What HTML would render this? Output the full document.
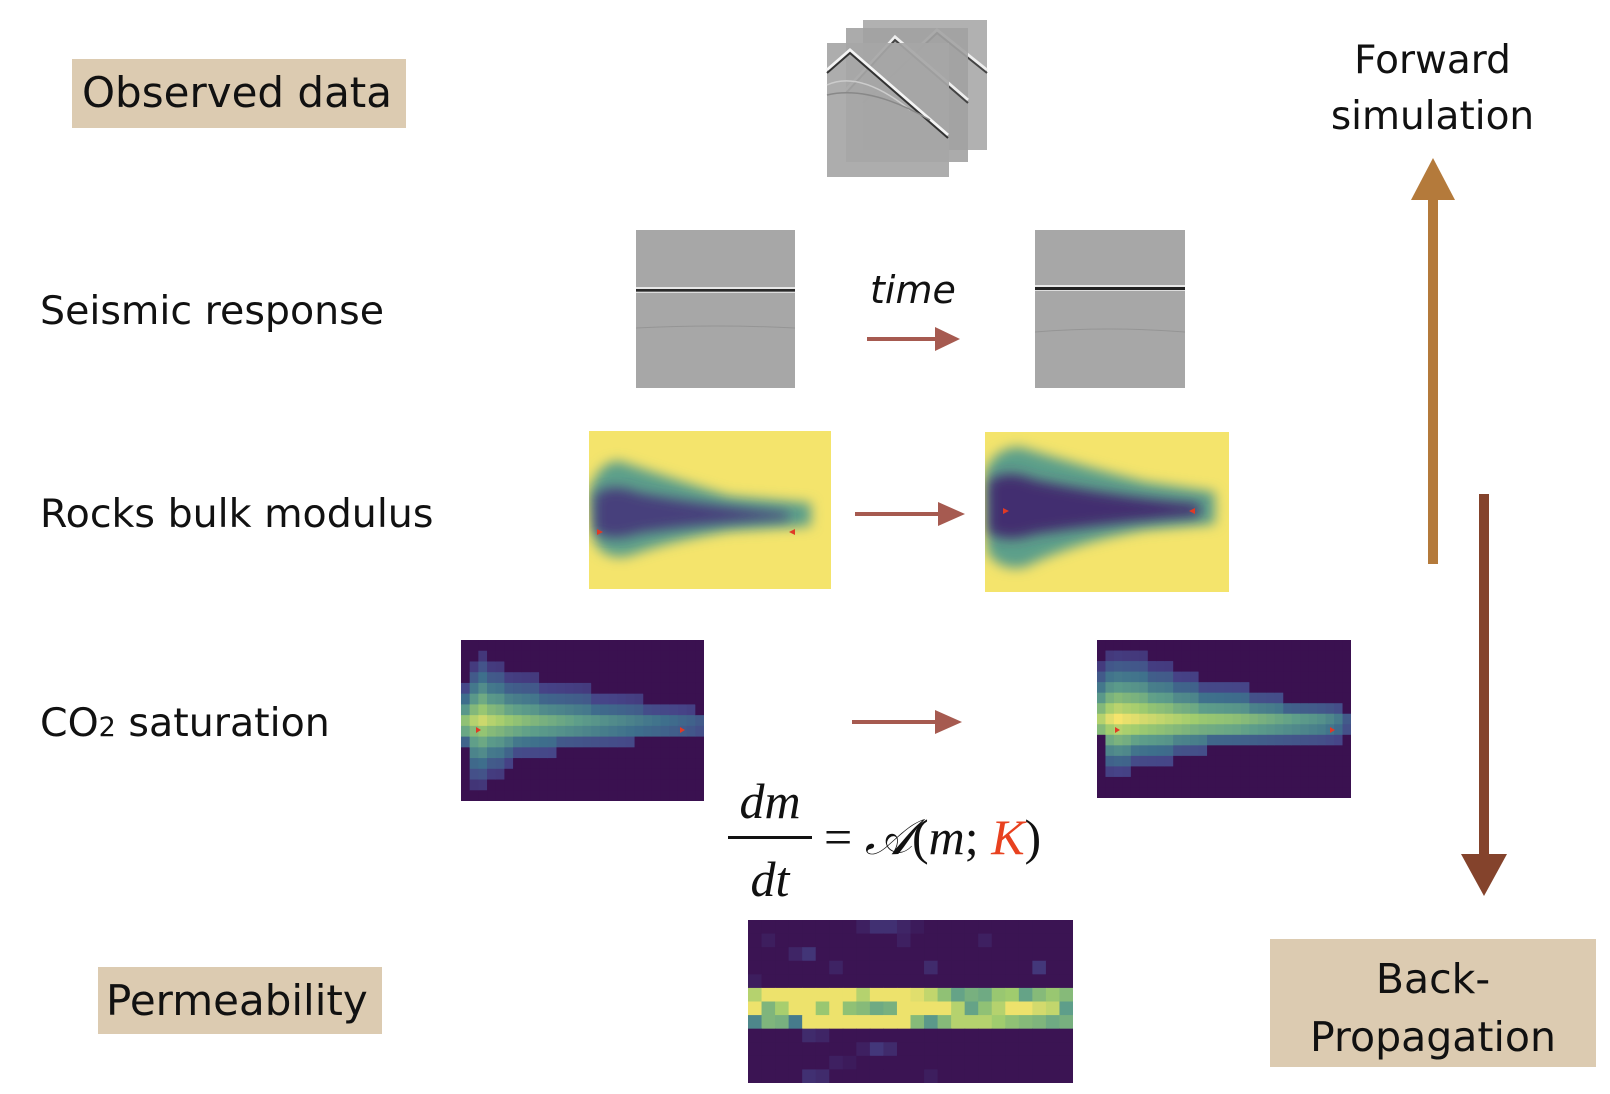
<!DOCTYPE html>
<html><head><meta charset="utf-8">
<style>
body{margin:0;width:1610px;height:1094px;background:#fff;position:relative;overflow:hidden;font-family:"DejaVu Sans","Liberation Sans",sans-serif;color:#111}
.abs{position:absolute}
.lbl{position:absolute;font-size:39.5px;white-space:nowrap}
.box{position:absolute;background:#dccbb1}
</style></head><body>
<div class="box" style="left:72px;top:59px;width:334px;height:69px"></div>
<div class="lbl" style="left:82px;top:68px;font-size:42px">Observed data</div>

<svg class="abs" style="left:820px;top:10px" width="190" height="180">
 <g><rect x="43" y="10" width="124" height="130" fill="#a9a9a9" opacity="0.9"/><path d="M43 90 L117 20 L167 60" stroke="#eee" stroke-width="3" fill="none"/><path d="M43 93 L117 23 L167 63" stroke="#444" stroke-width="2" fill="none"/></g>
 <g><rect x="26" y="18" width="122" height="134" fill="#a2a2a2" opacity="0.9"/><path d="M26 80 L75 27 L148 90" stroke="#eee" stroke-width="3" fill="none"/><path d="M26 83 L75 30 L148 93" stroke="#444" stroke-width="2" fill="none"/></g>
 <g><rect x="7" y="33" width="122" height="134" fill="#a6a6a6" opacity="0.92"/><path d="M7 60 L30 40 L128 125" stroke="#f4f4f4" stroke-width="3" fill="none"/><path d="M7 63 L30 43 L128 128" stroke="#333" stroke-width="2" fill="none"/><path d="M7 75 Q40 60 90 100" stroke="#ccc" stroke-width="1.5" fill="none"/><path d="M7 85 Q50 75 110 110" stroke="#888" stroke-width="1.5" fill="none"/></g>
</svg>

<div class="lbl" style="left:1310px;top:33px;width:245px;text-align:center;line-height:56px;font-size:39px">Forward<br>simulation</div>

<div class="lbl" style="left:40px;top:288px">Seismic response</div>
<svg class="abs" style="left:636px;top:230px" width="159" height="158"><rect width="159" height="158" fill="#a7a7a7"/><rect y="57" width="159" height="2" fill="#e8e8e8"/><rect y="59" width="159" height="2.5" fill="#2a2a2a"/><rect y="62" width="159" height="1" fill="#ddd"/><path d="M0 98 Q80 94 159 98" stroke="#959595" stroke-width="1" fill="none"/></svg>
<div class="lbl" style="left:870px;top:268px;font-style:italic;font-size:38px">time</div>
<svg class="abs" style="left:865px;top:326px" width="100" height="26"><line x1="2" y1="13" x2="75" y2="13" stroke="#a65a50" stroke-width="4"/><polygon points="70,1 95,13 70,25" fill="#a65a50"/></svg>
<svg class="abs" style="left:1035px;top:230px" width="150" height="158"><rect width="150" height="158" fill="#a7a7a7"/><rect y="55" width="150" height="2" fill="#e8e8e8"/><rect y="57" width="150" height="3" fill="#222"/><rect y="60" width="150" height="1" fill="#ddd"/><path d="M0 102 Q75 96 150 102" stroke="#959595" stroke-width="1" fill="none"/></svg>

<div class="lbl" style="left:40px;top:491px">Rocks bulk modulus</div>
<svg class="abs" style="left:589px;top:431px" width="242" height="158">
 <defs><filter id="bl1" x="-20%" y="-20%" width="140%" height="140%"><feGaussianBlur stdDeviation="6"/></filter></defs>
 <rect width="242" height="158" fill="#f4e46c"/>
 <path d="M0 60 Q10 30 30 30 Q90 50 140 65 L222 72 L222 95 L140 100 Q80 110 40 125 Q15 130 5 110 Z" fill="#5c9f8a" filter="url(#bl1)"/>
 <path d="M5 65 Q20 50 50 62 Q120 75 200 82 L200 88 Q120 92 50 102 Q20 112 5 100 Z" fill="#46407c" filter="url(#bl1)"/>
 <polygon points="8,98 14,101 8,104" fill="#e03a25"/><polygon points="206,98 200,101 206,104" fill="#e03a25"/>
</svg>
<svg class="abs" style="left:853px;top:501px" width="115" height="26"><line x1="2" y1="13" x2="90" y2="13" stroke="#a65a50" stroke-width="4"/><polygon points="85,1 112,13 85,25" fill="#a65a50"/></svg>
<svg class="abs" style="left:985px;top:432px" width="244" height="160">
 <defs><filter id="bl2" x="-20%" y="-20%" width="140%" height="140%"><feGaussianBlur stdDeviation="6"/></filter></defs>
 <rect width="244" height="160" fill="#f4e46c"/>
 <path d="M0 40 Q10 15 35 15 Q100 35 160 50 L230 60 L230 92 L160 98 Q90 110 40 135 Q15 140 2 120 Z" fill="#5c9f8a" filter="url(#bl2)"/>
 <path d="M3 50 Q20 35 50 48 Q130 65 215 72 L215 84 Q130 90 50 102 Q20 112 3 100 Z" fill="#432f70" filter="url(#bl2)"/>
 <polygon points="18,76 24,79 18,82" fill="#e03a25"/><polygon points="210,76 204,79 210,82" fill="#e03a25"/>
</svg>

<div class="lbl" style="left:40px;top:700px">CO<span style="font-size:27px">2</span> saturation</div>
<svg class="abs" id="co2a" style="left:461px;top:640px" width="243" height="161"></svg>
<svg class="abs" style="left:850px;top:709px" width="115" height="26"><line x1="2" y1="13" x2="90" y2="13" stroke="#a65a50" stroke-width="4"/><polygon points="85,1 112,13 85,25" fill="#a65a50"/></svg>
<svg class="abs" id="co2b" style="left:1097px;top:640px" width="254" height="158"></svg>

<div class="abs" style="left:728px;top:772px;font-family:'Liberation Serif',serif;font-size:50px;font-style:italic">
 <div class="abs" style="left:0;top:0;width:84px;text-align:center">dm</div>
 <div class="abs" style="left:0;top:64px;width:84px;height:3px;background:#111"></div>
 <div class="abs" style="left:0;top:78px;width:84px;text-align:center">dt</div>
 <div class="abs" style="left:96px;top:36px;white-space:nowrap"><span style="font-style:normal">= </span><span style="font-family:'DejaVu Serif','Liberation Serif',serif">𝒜</span><span style="font-style:normal">(</span>m<span style="font-style:normal">; </span><span style="color:#e8411f">K</span><span style="font-style:normal">)</span></div>
</div>

<div class="box" style="left:98px;top:967px;width:284px;height:67px"></div>
<div class="lbl" style="left:106px;top:976px;font-size:42px">Permeability</div>
<svg class="abs" id="perm" style="left:748px;top:920px" width="325" height="163"></svg>

<svg class="abs" style="left:1405px;top:158px" width="56" height="406"><rect x="23" y="40" width="10" height="366" fill="#b47a3b"/><polygon points="28,0 50,42 6,42" fill="#b47a3b"/></svg>
<svg class="abs" style="left:1456px;top:494px" width="56" height="402"><rect x="23" y="0" width="10" height="364" fill="#84432c"/><polygon points="5,360 51,360 28,402" fill="#84432c"/></svg>

<div class="box" style="left:1270px;top:939px;width:326px;height:128px"></div>
<div class="lbl" style="left:1270px;top:950px;width:326px;text-align:center;line-height:58px;font-size:41px">Back-<br>Propagation</div>

<script>
// CO2 before (left) - per column plume extents and intensity
const co2aUp = [3,5,6,5,5,4,4,4,4,3,3,3,3,3,3,2,2,2,2,2,2,1,1,1,1,1,1,0];
const co2aLo = [1,5,5,4,4,3,2,2,2,2,2,1,1,1,1,1,1,1,1,1,0,0,0,0,0,0,0,0];
const co2aPeak = [0.75,0.85,0.9,0.85,0.82,0.78,0.75,0.72,0.7,0.68,0.66,0.64,0.62,0.6,0.58,0.56,0.54,0.52,0.5,0.48,0.46,0.44,0.42,0.4,0.38,0.36,0.34,0.3];
// CO2 after (right)
const co2bUp = [5,6,6,6,6,6,5,5,5,4,4,4,3,3,3,3,3,3,2,2,2,2,1,1,1,1,1,1,1,0];
const co2bLo = [0,4,4,4,3,3,3,3,3,2,2,2,2,1,1,1,1,1,1,1,1,1,1,1,1,1,1,1,1,0];
const co2bPeak = [0.85,0.95,1,0.97,0.95,0.92,0.9,0.88,0.86,0.84,0.82,0.8,0.78,0.77,0.76,0.75,0.74,0.72,0.7,0.68,0.66,0.64,0.62,0.6,0.58,0.56,0.54,0.5,0.45,0.3];
// Permeability bright channel rows 5-7
const permRow5 = [0.85,0.98,0.98,0.98,0.98,0.98,0.98,0.98,0.85,0.98,0.98,0.98,0.95,0.88,0.75,0.62,0.68,0.65,0.78,0.8,0.62,0.72,0.78,0.72];
const permRow6 = [0.98,0.7,0.82,0.98,0.98,0.78,0.98,0.75,0.72,0.65,0.68,0.98,0.98,0.98,0.98,0.85,0.62,0.75,0.85,0.98,0.98,0.92,0.88,0.6];
const permRow7 = [0.5,0.7,0.68,0.45,0.98,0.98,0.98,0.98,0.98,0.98,0.98,0.98,0.72,0.58,0.72,0.85,0.85,0.85,0.8,0.75,0.72,0.7,0.65,0.68];
const permBgRows = [0,0,0,0,0,1,1,1,2,2,3,3,3,4,8,8,9,9,9,10,10,11,11,11];
const permBgCols = [8,9,10,11,12,1,11,17,3,4,6,13,21,0,4,5,8,9,10,6,7,4,5,13];
const permBgVals = [0.06,0.12,0.12,0.08,0.04,0.05,0.06,0.06,0.08,0.14,0.07,0.1,0.15,0.05,0.1,0.08,0.06,0.15,0.1,0.06,0.04,0.12,0.1,0.05];

const stops=[[0,[58,17,80]],[0.2,[70,68,136]],[0.4,[62,111,140]],[0.6,[94,158,138]],[0.8,[160,204,110]],[1,[245,228,108]]];
function viridis(v){v=Math.max(0,Math.min(1,v));for(let i=1;i<stops.length;i++){if(v<=stops[i][0]){const a=stops[i-1],b=stops[i],t=(v-a[0])/(b[0]-a[0]);const c=a[1].map((x,k)=>Math.round(x+(b[1][k]-x)*t));return 'rgb('+c.join(',')+')';}}return 'rgb(245,228,108)';}
const NS='http://www.w3.org/2000/svg';
function cell(svg,x,y,w,h,v,name){const r=document.createElementNS(NS,'rect');r.setAttribute('x',x);r.setAttribute('y',y);r.setAttribute('width',w+0.5);r.setAttribute('height',h+0.5);r.setAttribute('fill',viridis(v));


svg.appendChild(r);}
function plume(id,up,lo,peak,rows,center,W,H){const svg=document.getElementById(id);const cols=up.length;const cw=W/cols,ch=H/rows;
for(let c=0;c<cols;c++){for(let r=0;r<rows;r++){let v=0;
 if(peak[c]>0){ if(r===center||r===center+1){v=peak[c]*(r===center?1:0.85);}
 else if(r<center){const d=center-r;if(d<=up[c])v=peak[c]*(1-d/(up[c]+1.2));}
 else{const d=r-center-1;if(d<=lo[c])v=peak[c]*0.85*(1-d/(lo[c]+1.2));}}
 cell(svg,c*cw,r*ch,cw,ch,v,'saturation-cell');}}
}
plume('co2a',co2aUp,co2aLo,co2aPeak,15,7,243,161);
plume('co2b',co2bUp,co2bLo,co2bPeak,15,7,254,158);
// markers
[['co2a',17,90],['co2a',221,90],['co2b',20,90],['co2b',235,90]].forEach(m=>{const p=document.createElementNS(NS,'polygon');const x=m[1],y=m[2];p.setAttribute('points',(x-2)+','+(y-3)+' '+(x+3)+','+y+' '+(x-2)+','+(y+3));p.setAttribute('fill','#e03a25');


document.getElementById(m[0]).appendChild(p);});
(function(){const svg=document.getElementById('perm');const cols=24,rows=12,cw=325/cols,ch=163/rows;
for(let r=0;r<rows;r++)for(let c=0;c<cols;c++){let v=0.01;
 if(r===5)v=permRow5[c];else if(r===6)v=permRow6[c];else if(r===7)v=permRow7[c];
 for(let k=0;k<permBgRows.length;k++)if(permBgRows[k]===r&&permBgCols[k]===c)v=permBgVals[k];
 cell(svg,c*cw,r*ch,cw,ch,v,'permeability-cell');}})();
</script>
</body></html>
